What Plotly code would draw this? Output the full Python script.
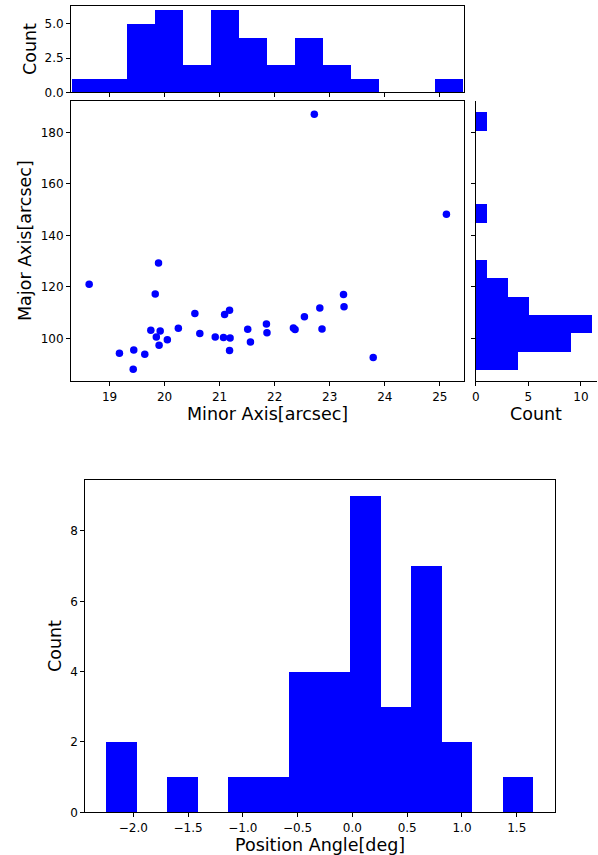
import plotly.graph_objects as go

# ---- data ----
minor_axis = [18.63, 19.18, 19.44, 19.43, 19.64, 19.75, 19.83, 19.89, 19.85, 19.92,
              19.90, 20.05, 20.25, 20.55, 20.64, 20.92, 21.07, 21.09, 21.18, 21.19,
              21.18, 21.51, 21.56, 21.85, 21.86, 22.72, 25.12, 23.25, 23.26, 22.82,
              22.54, 22.34, 22.37, 22.86, 23.79]
major_axis = [121.0, 94.2, 95.5, 88.0, 93.8, 103.1, 117.2, 129.3, 100.5, 102.8,
              97.3, 99.4, 103.9, 109.6, 101.9, 100.5, 100.3, 109.3, 110.9, 100.1,
              95.3, 103.5, 98.6, 105.6, 102.2, 187.1, 148.2, 117.0, 112.3, 111.8,
              108.4, 104.0, 103.4, 103.6, 92.5]

minor_bin_start, minor_bin_size = 18.31, 0.508
minor_counts = [1, 1, 5, 6, 2, 6, 4, 2, 4, 2, 1, 0, 0, 1]

major_bin_start, major_bin_size = 87.6, 7.16
major_counts = [4, 9, 11, 5, 3, 1, 0, 0, 1, 0, 0, 0, 0, 1]

pa_bin_start, pa_bin_size = -2.243, 0.2784
pa_counts = [2, 0, 1, 0, 1, 1, 4, 4, 9, 3, 7, 2, 0, 1]

pa_ticks = [-2.0, -1.5, -1.0, -0.5, 0.0, 0.5, 1.0, 1.5]

# ---- figure ----
W, H = 598, 855
BLUE = "#0000ff"
FONT = "DejaVu Sans"
TICKF = dict(family=FONT, size=12, color="black")
LABF = dict(family=FONT, size=17.5, color="black")


def px_x(a, b):
    return [a / W, b / W]


def px_y(top, bottom):
    return [(H - bottom) / H, (H - top) / H]


def centers(start, size, n):
    return [start + size * (i + 0.5) for i in range(n)]


fig = go.Figure()

fig.add_trace(go.Scatter(x=minor_axis, y=major_axis, mode="markers",
                         marker=dict(color=BLUE, size=7.5, line=dict(width=0)),
                         xaxis="x", yaxis="y", showlegend=False))

fig.add_trace(go.Bar(x=centers(minor_bin_start, minor_bin_size, len(minor_counts)),
                     y=minor_counts, width=minor_bin_size,
                     marker=dict(color=BLUE, line=dict(width=0)),
                     xaxis="x2", yaxis="y2", showlegend=False))

fig.add_trace(go.Bar(y=centers(major_bin_start, major_bin_size, len(major_counts)),
                     x=major_counts, width=major_bin_size, orientation="h",
                     marker=dict(color=BLUE, line=dict(width=0)),
                     xaxis="x3", yaxis="y3", showlegend=False))

fig.add_trace(go.Bar(x=centers(pa_bin_start, pa_bin_size, len(pa_counts)),
                     y=pa_counts, width=pa_bin_size,
                     marker=dict(color=BLUE, line=dict(width=0)),
                     xaxis="x4", yaxis="y4", showlegend=False))

ax_common = dict(showline=True, linecolor="black", linewidth=1, ticks="outside",
                 ticklen=4, tickwidth=1, tickcolor="black", tickfont=TICKF,
                 showgrid=False, zeroline=False, automargin=False)

xr = [18.30, 25.43]
yr = [83.3, 192.2]

fig.update_layout(
    width=W, height=H, margin=dict(l=0, r=0, t=0, b=0),
    paper_bgcolor="white", plot_bgcolor="white", bargap=0,
    font=dict(family=FONT, color="black"),
    xaxis=dict(domain=px_x(71, 463.5), range=xr, tickvals=[19, 20, 21, 22, 23, 24, 25],
               mirror=True, anchor="y", **ax_common),
    yaxis=dict(domain=px_y(101, 381.3), range=yr, tickvals=[100, 120, 140, 160, 180],
               mirror=True, anchor="x", **ax_common),
    xaxis2=dict(domain=px_x(71, 463.5), range=xr, tickvals=[19, 20, 21, 22, 23, 24, 25],
                showticklabels=False, mirror=True, anchor="y2", **ax_common),
    yaxis2=dict(domain=px_y(6, 92.3), range=[0, 6.3], tickvals=[0, 2.5, 5.0],
                ticktext=["0.0", "2.5", "5.0"], mirror=True, anchor="x2", **ax_common),
    xaxis3=dict(domain=px_x(475.7, 597.3), range=[0, 11.55], tickvals=[0, 5, 10],
                mirror=False, anchor="y3", **ax_common),
    yaxis3=dict(domain=px_y(101, 381.3), range=yr, tickvals=[100, 120, 140, 160, 180],
                showticklabels=False, mirror=False, anchor="x3", **ax_common),
    xaxis4=dict(domain=px_x(85.3, 555), range=[-2.438, 1.849], tickvals=pa_ticks,
                ticktext=[("\u2212" if v < 0 else "") + f"{abs(v):.1f}" for v in pa_ticks],
                mirror=True, anchor="y4", **ax_common),
    yaxis4=dict(domain=px_y(480, 812.3), range=[0, 9.45], tickvals=[0, 2, 4, 6, 8],
                mirror=True, anchor="x4", **ax_common),
)


def label(text, xc, yc, rot=0):
    fig.add_annotation(text=text, x=xc / W, y=(H - yc) / H, xref="paper", yref="paper",
                       xanchor="center", yanchor="middle", showarrow=False,
                       textangle=rot, font=LABF)


label("Count", 30, 49, -90)
label("Major Axis[arcsec]", 25, 241, -90)
label("Minor Axis[arcsec]", 267, 414)
label("Count", 536, 414)
label("Count", 55, 646, -90)
label("Position Angle[deg]", 320, 845)

fig.write_html("out.html")
